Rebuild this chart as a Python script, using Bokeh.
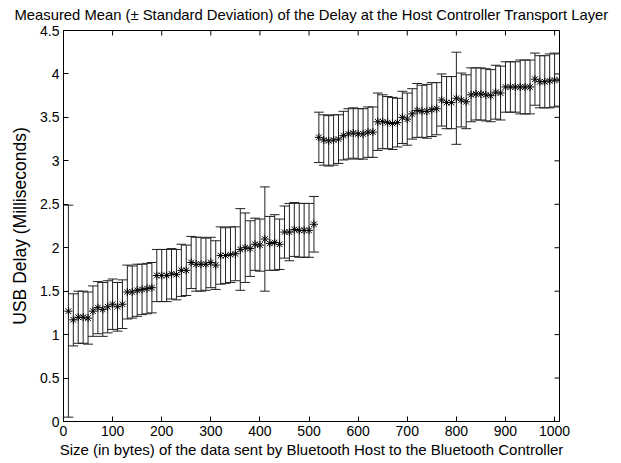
import math
from bokeh.plotting import figure
from bokeh.models import Range1d, FixedTicker, ColumnDataSource
from bokeh.embed import file_html
from bokeh.resources import INLINE

# ---- data ----
sizes = list(range(10, 1011, 10))
mean_delay = [
    1.27, 1.17, 1.20, 1.20, 1.19, 1.27, 1.31, 1.29, 1.32, 1.35,
    1.32, 1.35, 1.49, 1.49, 1.51, 1.52, 1.53, 1.54, 1.68, 1.68,
    1.68, 1.70, 1.69, 1.74, 1.74, 1.83, 1.81, 1.81, 1.81, 1.83,
    1.80, 1.91, 1.91, 1.92, 1.93, 1.98, 2.00, 1.99, 2.04, 2.03,
    2.10, 2.05, 2.06, 2.04, 2.18, 2.18, 2.21, 2.20, 2.20, 2.20,
    2.27,
    3.27, 3.24, 3.23, 3.24, 3.25, 3.29, 3.31, 3.32, 3.31, 3.31,
    3.33, 3.33, 3.45, 3.45, 3.44, 3.43, 3.44, 3.50, 3.48, 3.54,
    3.58, 3.57, 3.57, 3.59, 3.60, 3.70, 3.67, 3.67, 3.72, 3.70,
    3.68, 3.76, 3.77, 3.77, 3.76, 3.75, 3.79, 3.78, 3.85, 3.85,
    3.85, 3.85, 3.85, 3.85, 3.94, 3.91, 3.91, 3.92, 3.93, 3.93,
]
std_delay = [
    1.22, 0.30, 0.30, 0.30, 0.30, 0.29, 0.30, 0.31, 0.30, 0.29,
    0.28, 0.28, 0.31, 0.30, 0.30, 0.29, 0.29, 0.29, 0.30, 0.30,
    0.30, 0.29, 0.29, 0.30, 0.29, 0.30, 0.31, 0.31, 0.30, 0.29,
    0.28, 0.33, 0.32, 0.32, 0.31, 0.47, 0.40, 0.32, 0.30, 0.30,
    0.60, 0.31, 0.32, 0.29, 0.30, 0.33, 0.31, 0.31, 0.31, 0.31,
    0.32,
    0.29, 0.29, 0.29, 0.29, 0.28, 0.28, 0.29, 0.29, 0.29, 0.29,
    0.29, 0.29, 0.33, 0.31, 0.30, 0.30, 0.28, 0.30, 0.30, 0.29,
    0.31, 0.30, 0.31, 0.31, 0.30, 0.30, 0.30, 0.30, 0.53, 0.31,
    0.31, 0.31, 0.30, 0.30, 0.30, 0.30, 0.31, 0.31, 0.29, 0.29,
    0.29, 0.31, 0.31, 0.31, 0.30, 0.30, 0.30, 0.31, 0.31, 0.30,
]
x_ticks = [0, 100, 200, 300, 400, 500, 600, 700, 800, 900, 1000]
x_tick_labels = ["0", "100", "200", "300", "400", "500", "600", "700", "800", "900", "1000"]
y_ticks = [0, 0.5, 1, 1.5, 2, 2.5, 3, 3.5, 4, 4.5]
y_tick_labels = ["0", "0.5", "1", "1.5", "2", "2.5", "3", "3.5", "4", "4.5"]

title_text = "Measured Mean (\u00b1 Standard Deviation) of the Delay at the Host Controller Transport Layer"
x_label = "Size (in bytes) of the data sent by Bluetooth Host to the Bluetooth Controller"
y_label = "USB Delay (Milliseconds)"

X_MIN, X_MAX = 0, 1010
Y_MIN, Y_MAX = 0, 4.5

# cap half-width as MATLAB: 1/100 of x span
cap = (max(sizes) - min(sizes)) / 100.0
lower = [m - s for m, s in zip(mean_delay, std_delay)]
upper = [m + s for m, s in zip(mean_delay, std_delay)]
src = ColumnDataSource(dict(
    x=sizes, y=mean_delay, lo=lower, hi=upper,
    xl=[x - cap for x in sizes], xr=[x + cap for x in sizes],
))

FONT = "Liberation Sans"

p = figure(width=613, height=462, output_backend="svg", toolbar_location=None,
           x_range=Range1d(X_MIN, X_MAX), y_range=Range1d(Y_MIN, Y_MAX),
           min_border_left=63, min_border_right=54, min_border_top=30, min_border_bottom=41)
p.title.text = title_text
p.title.text_font = FONT
p.title.text_font_size = "14.8px"
p.title.text_font_style = "normal"
p.title.text_color = "black"
p.title.align = "center"
p.title.vertical_align = "top"
p.title.standoff = 12
p.xgrid.visible = False
p.ygrid.visible = False
p.outline_line_color = "black"
p.outline_line_width = 1
p.background_fill_color = "white"
p.border_fill_color = "white"

# error bars
p.segment(x0="x", y0="lo", x1="x", y1="hi", source=src, line_color="#222222", line_width=1)
p.segment(x0="xl", y0="hi", x1="xr", y1="hi", source=src, line_color="#222222", line_width=1)
p.segment(x0="xl", y0="lo", x1="xr", y1="lo", source=src, line_color="#222222", line_width=1)
# markers
p.scatter(x="x", y="y", source=src, marker="asterisk", size=8, line_color="black", line_width=1)

# mirrored inward ticks on top and right edges
p.ray(x=x_ticks, y=[Y_MAX] * len(x_ticks), length=5, length_units="screen",
      angle=-math.pi / 2, line_color="black", line_width=1)
p.ray(x=[X_MAX] * len(y_ticks), y=y_ticks, length=5, length_units="screen",
      angle=math.pi, line_color="black", line_width=1)

def style_axis(ax, ticks, labels):
    ax.ticker = FixedTicker(ticks=ticks)
    ax.major_label_overrides = {t: l for t, l in zip(ticks, labels)}
    ax.minor_tick_line_color = None
    ax.major_tick_in = 5
    ax.major_tick_out = 0
    ax.axis_line_color = "black"
    ax.axis_line_width = 1
    ax.major_tick_line_color = "black"
    ax.major_label_text_font = FONT
    ax.major_label_text_font_size = "14px"
    ax.major_label_text_color = "black"
    ax.axis_label_text_font = FONT
    ax.axis_label_text_font_style = "normal"
    ax.axis_label_text_color = "black"

xa = p.xaxis[0]
ya = p.yaxis[0]
style_axis(xa, x_ticks, x_tick_labels)
style_axis(ya, y_ticks, y_tick_labels)
xa.axis_label = x_label
ya.axis_label = y_label
xa.axis_label_text_font_size = "15px"
ya.axis_label_text_font_size = "17.5px"
xa.major_label_standoff = 4
xa.axis_label_standoff = 2
ya.major_label_standoff = 4
ya.axis_label_standoff = 7

open("out.html", "w").write(file_html(p, INLINE))
